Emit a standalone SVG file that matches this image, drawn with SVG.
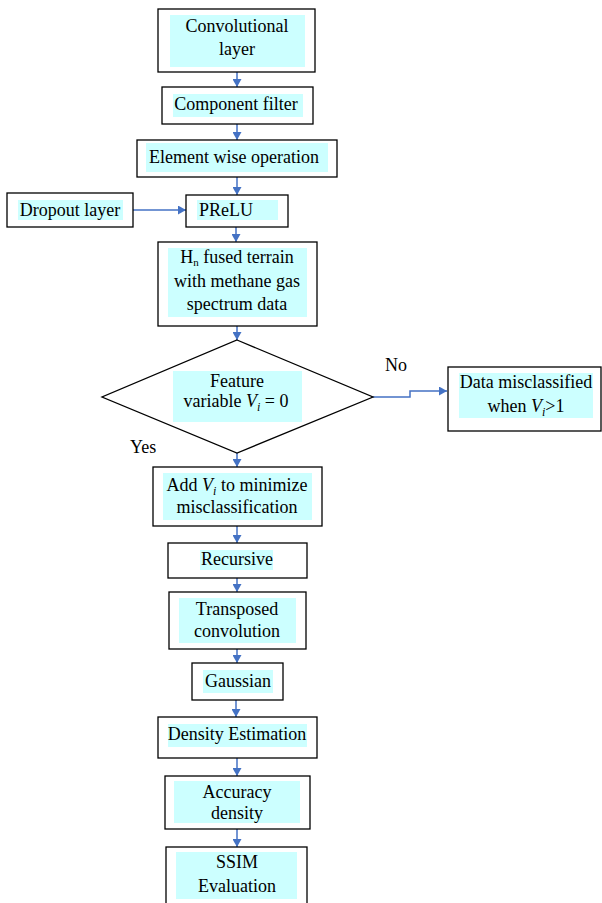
<svg xmlns="http://www.w3.org/2000/svg" width="602" height="903" viewBox="0 0 602 903">
<style>
.box{fill:#fff;stroke:#000;stroke-width:1.3}
.hl{fill:#ccffff}
.t{font-family:"Liberation Serif","Times New Roman",serif;font-size:18px;fill:#000;text-anchor:middle}
.l{text-anchor:start}
.c{fill:none;stroke:#4472c4;stroke-width:1.5}
.i{font-style:italic}
</style>
<defs>
<marker id="ah" markerUnits="userSpaceOnUse" markerWidth="9" markerHeight="9" refX="8" refY="4.5" orient="auto">
<path d="M0,0 L8,4.5 L0,9 z" fill="#4472c4"/>
</marker>
</defs>
<rect width="602" height="903" fill="#fff"/>
<g id="connectors">
<path class="c" d="M237,72 V87" marker-end="url(#ah)"/>
<path class="c" d="M237,124 V140" marker-end="url(#ah)"/>
<path class="c" d="M237,177 V195" marker-end="url(#ah)"/>
<path class="c" d="M133,210 H186" marker-end="url(#ah)"/>
<path class="c" d="M236,227 V242" marker-end="url(#ah)"/>
<path class="c" d="M237,326 V340" marker-end="url(#ah)"/>
<path class="c" d="M237,453 V467" marker-end="url(#ah)"/>
<path class="c" d="M373,397 H410 V391 H447" marker-end="url(#ah)"/>
<path class="c" d="M237,526 V543" marker-end="url(#ah)"/>
<path class="c" d="M237,578 V592" marker-end="url(#ah)"/>
<path class="c" d="M237,649 V663" marker-end="url(#ah)"/>
<path class="c" d="M236,700 V717" marker-end="url(#ah)"/>
<path class="c" d="M237,758 V776" marker-end="url(#ah)"/>
<path class="c" d="M237,829 V847" marker-end="url(#ah)"/>
</g>
<g id="conv">
<rect class="box" x="158" y="9" width="157" height="63"/>
<rect class="hl" x="170" y="15" width="135" height="52"/>
<text class="t" x="237" y="32">Convolutional</text>
<text class="t" x="237" y="55">layer</text>
</g>
<g id="component">
<rect class="box" x="162" y="87" width="151" height="37"/>
<rect class="hl" x="173" y="94" width="130" height="23"/>
<text class="t" x="236" y="110">Component filter</text>
</g>
<g id="element">
<rect class="box" x="137" y="140" width="200" height="37"/>
<rect class="hl" x="146" y="143" width="182" height="29"/>
<text class="t" x="234" y="163">Element wise operation</text>
</g>
<g id="dropout">
<rect class="box" x="7" y="193" width="126" height="34"/>
<rect class="hl" x="18" y="200" width="105" height="20"/>
<text class="t" x="70" y="216">Dropout layer</text>
</g>
<g id="prelu">
<rect class="box" x="186" y="195" width="102" height="32"/>
<rect class="hl" x="197" y="200" width="81" height="20"/>
<text class="t l" x="199" y="216">PReLU</text>
</g>
<g id="fused">
<rect class="box" x="158" y="242" width="159" height="84"/>
<rect class="hl" x="168" y="248" width="139" height="69"/>
<text class="t" x="237" y="263">H<tspan font-size="11" dy="3">n</tspan><tspan dy="-3"> fused terrain</tspan></text>
<text class="t" x="237" y="287">with methane gas</text>
<text class="t" x="237" y="310">spectrum data</text>
</g>
<g id="decision">
<polygon class="box" points="237,340 373,397 237,453 102,397"/>
<rect class="hl" x="173" y="371" width="129" height="51"/>
<text class="t" x="237" y="387">Feature</text>
<text class="t" x="236" y="407">variable <tspan class="i">V</tspan><tspan class="i" font-size="12" dy="4">i</tspan><tspan dy="-4"> = 0</tspan></text>
<text class="t l" x="130" y="453">Yes</text>
<text class="t l" x="385" y="371">No</text>
</g>
<g id="misclassified">
<rect class="box" x="448" y="367" width="153" height="64"/>
<rect class="hl" x="459" y="373" width="134" height="45"/>
<text class="t" x="526" y="388">Data misclassified</text>
<text class="t" x="526" y="412">when <tspan class="i">V</tspan><tspan class="i" font-size="12" dy="4">i</tspan><tspan dy="-4">&gt;1</tspan></text>
</g>
<g id="addvi">
<rect class="box" x="153" y="467" width="169" height="59"/>
<rect class="hl" x="163" y="473" width="149" height="47"/>
<text class="t" x="237" y="491">Add <tspan class="i">V</tspan><tspan class="i" font-size="12" dy="4">i</tspan><tspan dy="-4"> to minimize</tspan></text>
<text class="t" x="237" y="513">misclassification</text>
</g>
<g id="recursive">
<rect class="box" x="168" y="543" width="139" height="35"/>
<rect class="hl" x="200" y="550" width="73" height="20"/>
<text class="t" x="237" y="565">Recursive</text>
</g>
<g id="transposed">
<rect class="box" x="169" y="592" width="137" height="57"/>
<rect class="hl" x="179" y="598" width="117" height="45"/>
<text class="t" x="237" y="615">Transposed</text>
<text class="t" x="237" y="637">convolution</text>
</g>
<g id="gaussian">
<rect class="box" x="192" y="663" width="91" height="37"/>
<rect class="hl" x="203" y="670" width="70" height="23"/>
<text class="t" x="238" y="687">Gaussian</text>
</g>
<g id="density">
<rect class="box" x="158" y="717" width="159" height="41"/>
<rect class="hl" x="168" y="724" width="139" height="23"/>
<text class="t" x="237" y="740">Density Estimation</text>
</g>
<g id="accuracy">
<rect class="box" x="165" y="776" width="145" height="53"/>
<rect class="hl" x="174" y="781" width="126" height="42"/>
<text class="t" x="237" y="798">Accuracy</text>
<text class="t" x="237" y="819">density</text>
</g>
<g id="ssim">
<rect class="box" x="166" y="847" width="141" height="70"/>
<rect class="hl" x="176" y="852" width="121" height="47"/>
<text class="t" x="237" y="868">SSIM</text>
<text class="t" x="237" y="892">Evaluation</text>
</g>
</svg>
